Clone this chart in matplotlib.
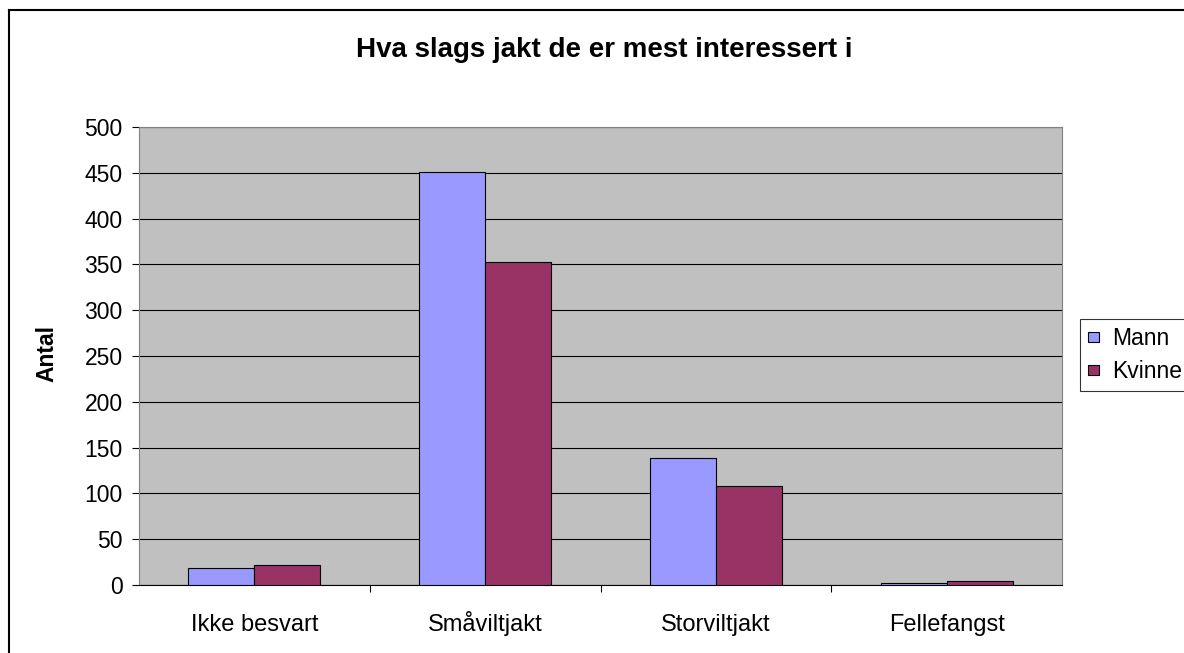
import matplotlib.pyplot as plt
import numpy as np
from matplotlib.lines import Line2D

# Data
categories = ['Ikke besvart', 'Småviltjakt', 'Storviltjakt', 'Fellefangst']
mann = [19, 451, 139, 2]
kvinne = [22, 353, 108, 4]
yticks = [0, 50, 100, 150, 200, 250, 300, 350, 400, 450, 500]

plt.rcParams['font.family'] = ['Liberation Sans', 'DejaVu Sans']

W, H = 1184, 653
fig = plt.figure(figsize=(W / 100, H / 100), dpi=100)
ax = fig.add_axes([139 / W, 1 - 585 / H, (1062 - 139) / W, (585 - 127) / H])

x = np.arange(len(categories))
bw = 1 / 3.5
ax.bar(x - bw / 2, mann, bw, color='#9999FF', edgecolor='black', linewidth=0.8, label='Mann', zorder=3)
ax.bar(x + bw / 2, kvinne, bw, color='#993366', edgecolor='black', linewidth=0.8, label='Kvinne', zorder=3)

ax.set_facecolor('#C0C0C0')
ax.set_xlim(-0.5, len(categories) - 0.5)
ax.set_ylim(0, 500)
ax.set_yticks(yticks)
ax.yaxis.grid(True, color='black', linewidth=0.8, zorder=1)
ax.set_axisbelow(True)
for s in ['top', 'right', 'left']:
    ax.spines[s].set_color('#808080')
ax.spines['bottom'].set_color('black')

ax.tick_params(axis='y', direction='out', length=4.7, width=0.8, labelsize=16.5, pad=7)
ax.set_xticks(x)
ax.set_xticklabels(categories, fontsize=17, va='baseline')
ax.tick_params(axis='x', length=0, pad=33)
ax.set_xticks(np.arange(0.5, len(categories) - 0.5, 1), minor=True)
ax.tick_params(axis='x', which='minor', direction='out', length=5, width=0.8)

fig.text(604 / W, 1 - 50 / H, 'Hva slags jakt de er mest interessert i',
         ha='center', va='center', fontsize=20, fontweight='bold')
fig.text(47 / W, 1 - 353 / H, 'Antal', rotation=90, ha='center', va='center',
         fontsize=16.5, fontweight='bold')

leg = fig.legend(loc='upper left', bbox_to_anchor=(1080 / W, 1 - 319 / H),
                 fontsize=16.5, frameon=True, fancybox=False, edgecolor='black',
                 borderpad=0.35, handlelength=0.5, handleheight=0.3,
                 handletextpad=0.55, labelspacing=0.45, borderaxespad=0)
leg.get_frame().set_linewidth(0.8)

# outer chart border (left and top edges visible)
fig.add_artist(Line2D([9 / W, 9 / W], [0, 1 - 10 / H], transform=fig.transFigure,
                      color='black', linewidth=1.5))
fig.add_artist(Line2D([9 / W, 1], [1 - 10 / H, 1 - 10 / H], transform=fig.transFigure,
                      color='black', linewidth=1.5))

fig.savefig('out.png', dpi=100)
